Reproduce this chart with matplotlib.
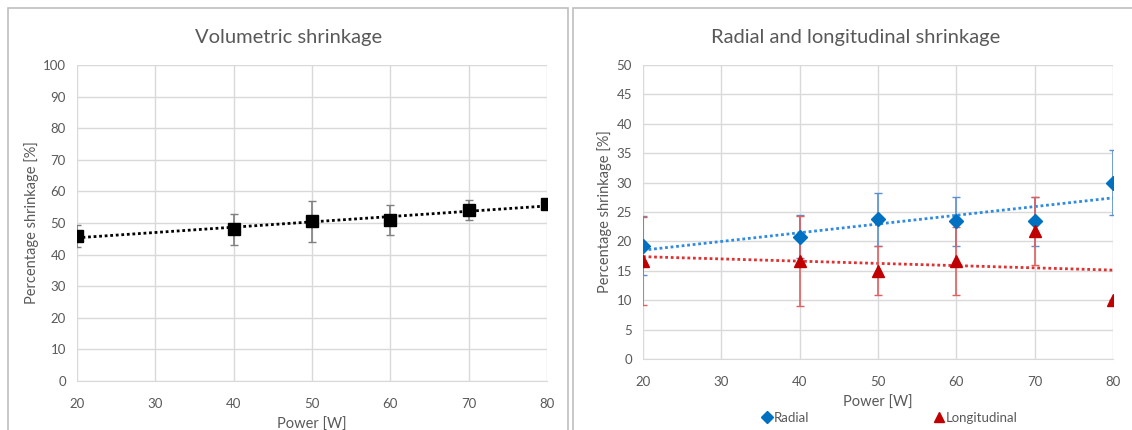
import numpy as np
import matplotlib.pyplot as plt
from matplotlib.patches import Rectangle
from matplotlib.lines import Line2D

# data
power = [20, 40, 50, 60, 70, 80]
vol = [46, 48, 50.5, 51, 54, 56]
vol_err = [3.5, 5, 6.5, 4.7, 3.2, 0]
radial = [19.3, 20.8, 23.8, 23.4, 23.4, 30]
radial_err = [5, 3.7, 4.5, 4.2, 4.2, 5.5]
longit = [16.7, 16.7, 15, 16.6, 21.8, 10]
longit_err = [7.5, 7.7, 4.2, 5.8, 5.8, 0]

plt.rcParams['font.family'] = ['Lato', 'DejaVu Sans']
txt = '#595959'
grid = '#D9D9D9'
W, H = 1132, 430

fig = plt.figure(figsize=(W / 100, H / 100), dpi=100)

# panel frames
fig.patches.append(Rectangle((8 / W, -0.05), 560 / W, 1 - 8 / H + 0.05,
                             transform=fig.transFigure, fill=False, ec='#BFBFBF', lw=1.2))
fig.patches.append(Rectangle((573 / W, -0.05), 570 / W, 1 - 8 / H + 0.05,
                             transform=fig.transFigure, fill=False, ec='#BFBFBF', lw=1.2))


def style(ax, ymax, ystep):
    ax.set_xlim(20, 80)
    ax.set_ylim(0, ymax)
    ax.set_xticks(range(20, 81, 10))
    ax.set_yticks(np.arange(0, ymax + 1, ystep))
    ax.grid(True, color=grid, lw=1)
    ax.set_axisbelow(True)
    for s in ['top', 'right', 'left']:
        ax.spines[s].set_visible(False)
    ax.spines['bottom'].set_color(grid)
    ax.tick_params(length=0, colors=txt, labelsize=9.5)
    ax.tick_params(axis='x', pad=12)
    ax.tick_params(axis='y', pad=8)
    ax.set_xlabel('Power [W]', color=txt, fontsize=10.5, labelpad=6)
    ax.set_ylabel('Percentage shrinkage [%]', color=txt, fontsize=10.5, labelpad=3)


def trend(ax, x, y, color):
    k, b = np.polyfit(x, y, 1)
    xs = np.array([20, 80])
    ax.plot(xs, k * xs + b, ls=(0, (1, 1)), color=color, lw=2, zorder=2)


# left: volumetric
ax1 = fig.add_axes([77 / W, 1 - 381 / H, 470 / W, 316 / H])
style(ax1, 100, 10)
ax1.errorbar(power, vol, yerr=vol_err, fmt='none', ecolor='#7F7F7F', capsize=3, lw=1.2, zorder=3)
trend(ax1, power, vol, 'black')
ax1.plot(power, vol, 's', color='black', ms=8, zorder=4)
fig.text(289 / W, 1 - 37 / H, 'Volumetric shrinkage', color=txt, fontsize=14.5, ha='center', va='center')

# right: radial and longitudinal
ax2 = fig.add_axes([643 / W, 1 - 359 / H, 470 / W, 294 / H])
style(ax2, 50, 5)
ax2.errorbar(power, radial, yerr=radial_err, fmt='none', ecolor='#5B8FD0', capsize=3, lw=1.2, zorder=3)
ax2.errorbar(power, longit, yerr=longit_err, fmt='none', ecolor='#E06060', capsize=3, lw=1.2, zorder=3)
trend(ax2, power, radial, '#2E8BE0')
trend(ax2, power, longit, '#E03030')
ax2.plot(power, radial, 'D', color='#0070C0', ms=7, zorder=4)
ax2.plot(power, longit, '^', color='#C00000', ms=8, zorder=4)
fig.text(856 / W, 1 - 37 / H, 'Radial and longitudinal shrinkage', color=txt, fontsize=14.5,
         ha='center', va='center')

handles = [Line2D([], [], marker='D', color='#0070C0', ls='none', ms=6),
           Line2D([], [], marker='^', color='#C00000', ls='none', ms=7.5)]
fig.legend(handles, ['Radial', 'Longitudinal'], loc='center', bbox_to_anchor=(889 / W, 1 - 418 / H),
           ncol=2, frameon=False, fontsize=9.5, labelcolor=txt, handletextpad=0.05,
           handlelength=1.0, columnspacing=9.3)

fig.savefig('out.png', dpi=100)
